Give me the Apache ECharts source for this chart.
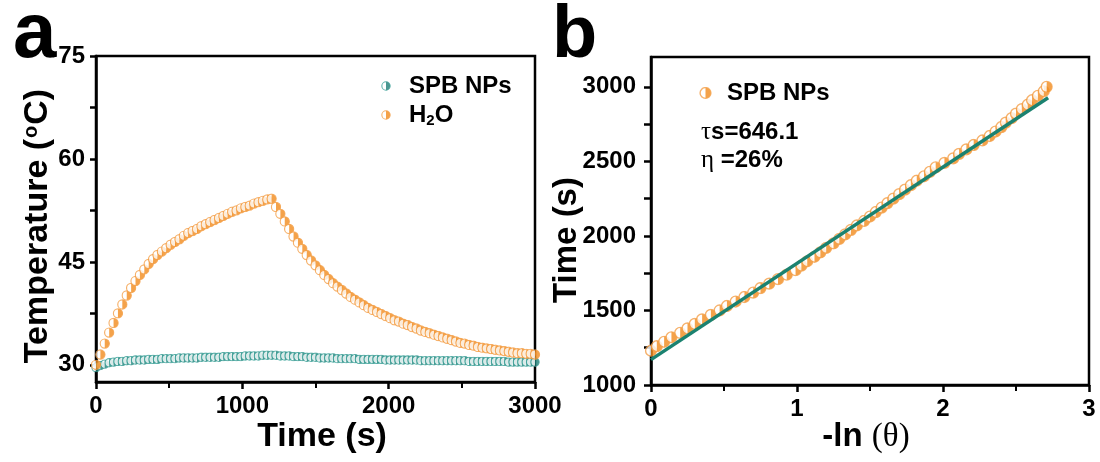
<!DOCTYPE html>
<html>
<head>
<meta charset="utf-8">
<script src="https://cdn.jsdelivr.net/npm/echarts/dist/echarts.min.js"></script>
<style>html,body{margin:0;padding:0;background:#fff;}#c{width:1100px;height:462px;}</style>
</head>
<body>
<div id="c"></div>
<script>
// ---------- Panel a data: temperature vs time ----------
const timeA = [0,30,60,90,120,150,180,210,240,270,300,330,360,390,420,450,480,510,540,570,
  600,630,660,690,720,750,780,810,840,870,900,930,960,990,1020,1050,1080,1110,1140,1170,
  1200,1230,1260,1290,1320,1350,1380,1410,1440,1470,1500,1530,1560,1590,1620,1650,1680,1710,1740,1770,
  1800,1830,1860,1890,1920,1950,1980,2010,2040,2070,2100,2130,2160,2190,2220,2250,2280,2310,2340,2370,
  2400,2430,2460,2490,2520,2550,2580,2610,2640,2670,2700,2730,2760,2790,2820,2850,2880,2910,2940,2970,3000];
const tempH2O = [30.0,31.5,33.1,34.7,36.1,37.5,38.8,40.1,41.2,42.2,
  43.1,43.9,44.7,45.4,46.0,46.5,47.0,47.5,47.9,48.3,
  48.8,49.2,49.5,49.8,50.2,50.5,50.8,51.1,51.4,51.7,
  52.0,52.3,52.5,52.8,53.0,53.2,53.5,53.7,53.9,54.1,
  54.2,53.0,52.0,50.9,49.8,48.7,47.8,46.9,46.0,45.2,
  44.5,43.8,43.1,42.5,41.9,41.4,40.9,40.4,39.9,39.5,
  39.1,38.7,38.3,38.0,37.7,37.4,37.1,36.8,36.5,36.3,
  36.0,35.8,35.5,35.3,35.0,34.8,34.6,34.4,34.2,34.0,
  33.8,33.6,33.4,33.2,33.1,32.9,32.8,32.6,32.5,32.4,
  32.3,32.2,32.1,32.0,31.9,31.8,31.7,31.7,31.6,31.6,
  31.5];
const tempSPB = [29.6,29.9,30.1,30.3,30.4,30.5,30.5,30.6,30.6,30.7,
  30.7,30.7,30.8,30.8,30.8,30.9,30.9,30.9,30.9,31.0,
  31.0,31.0,31.0,31.0,31.1,31.1,31.1,31.1,31.1,31.2,
  31.2,31.2,31.2,31.2,31.3,31.3,31.3,31.3,31.4,31.4,
  31.4,31.4,31.3,31.3,31.3,31.2,31.2,31.2,31.1,31.1,
  31.1,31.0,31.0,31.0,31.0,30.9,30.9,30.9,30.9,30.9,
  30.8,30.8,30.8,30.8,30.8,30.8,30.7,30.7,30.7,30.7,
  30.7,30.7,30.7,30.7,30.6,30.6,30.6,30.6,30.6,30.6,
  30.6,30.6,30.6,30.6,30.6,30.5,30.5,30.5,30.5,30.5,
  30.5,30.5,30.5,30.5,30.4,30.4,30.4,30.4,30.4,30.4,
  30.4];
const ticksA_y = [30,37.5,45,52.5,60,67.5,75];
const labelsA_y = [30,45,60,75];

// ---------- Panel b data: cooling time vs -ln(theta) ----------
const coolTime = [1230,1260,1290,1320,1350,1380,1410,1440,1470,
  1500,1530,1560,1590,1620,1650,1680,1710,1740,1770,
  1800,1830,1860,1890,1920,1950,1980,2010,2040,
  2070,2100,2130,2160,2190,2220,2250,2280,2310,2340,2370,2400,2430,2460,
  2490,2520,2550,2580,2610,2640,2670,
  2700,2730,2760,2790,2820,2850,2880,2910,2940,2970,3000];
const lnTheta = [0.00,0.04,0.09,0.14,0.20,0.25,0.30,0.35,0.41,
  0.47,0.52,0.58,0.64,0.70,0.75,0.81,0.87,0.93,0.99,
  1.03,1.07,1.12,1.16,1.20,1.25,1.29,1.33,1.37,
  1.41,1.46,1.50,1.54,1.58,1.62,1.66,1.70,1.74,1.78,1.82,1.87,1.91,1.95,
  2.01,2.07,2.11,2.16,2.21,2.27,2.32,
  2.36,2.40,2.43,2.47,2.50,2.54,2.58,2.61,2.65,2.69,2.71];
const fitX = [0, 2.72];
const fitT = [1170, 2927];
const ticksB_y = [1000,1250,1500,1750,2000,2250,2500,2750,3000];
const labelsB_y = [1000,1500,2000,2500,3000];

const SANS = '"Liberation Sans", Arial, sans-serif';
const SERIF = '"Liberation Serif", "DejaVu Serif", serif';
const ORANGE = '#F28C1E', ORANGE_S = '#F4A04A';
const TEAL = '#1E7F77', TEAL_S = '#3AA39A';

function halfMarker(stroke, fill){
  const svg = '<svg xmlns="http://www.w3.org/2000/svg" width="24" height="24">' +
    '<circle cx="12" cy="12" r="10" fill="#ffffff" stroke="' + stroke + '" stroke-width="2.6"/>' +
    '<path d="M12 2 A10 10 0 0 1 12 22 Z" fill="' + fill + '"/></svg>';
  return 'image://data:image/svg+xml;charset=utf-8,' + encodeURIComponent(svg);
}
const symOrange = halfMarker(ORANGE_S, ORANGE);
const symTeal = halfMarker(TEAL_S, TEAL);

const zip = (xs, ys) => xs.map((x, i) => [x, ys[i]]);
const plain = v => String(v);

const axisLineStyle = {show: true, lineStyle: {color: '#000', width: 2.5}};
const tickLabel = {color: '#000', fontSize: 24, fontWeight: 'bold', fontFamily: SANS, formatter: plain};

const chart = echarts.init(document.getElementById('c'), null, {renderer: 'canvas'});
chart.setOption({
  animation: false,
  backgroundColor: '#fff',
  grid: [
    {left: 96, right: 565, top: 56, bottom: 80, show: true, borderColor: '#000', borderWidth: 2.5, backgroundColor: 'transparent'},
    {left: 651, right: 11, top: 57, bottom: 77, show: true, borderColor: '#000', borderWidth: 2.5, backgroundColor: 'transparent'}
  ],
  xAxis: [
    {type: 'value', gridIndex: 0, min: 0, max: 3000, interval: 1000,
     axisLine: axisLineStyle, splitLine: {show: false},
     axisTick: {show: true, inside: false, length: 7, lineStyle: {color: '#000', width: 2.5}},
     minorTick: {show: true, splitNumber: 2, length: 6, lineStyle: {color: '#000', width: 2}},
     axisLabel: Object.assign({margin: 12}, tickLabel)},
    {type: 'value', gridIndex: 1, min: 0, max: 3, interval: 1,
     axisLine: axisLineStyle, splitLine: {show: false},
     axisTick: {show: true, inside: false, length: 7, lineStyle: {color: '#000', width: 2.5}},
     minorTick: {show: true, splitNumber: 2, length: 6, lineStyle: {color: '#000', width: 2}},
     axisLabel: Object.assign({margin: 12}, tickLabel)}
  ],
  yAxis: [
    {type: 'value', gridIndex: 0, min: 27.5, max: 75,
     axisLine: axisLineStyle, splitLine: {show: false},
     axisTick: {show: true, inside: false, length: 6, customValues: ticksA_y, lineStyle: {color: '#000', width: 2.5}},
     axisLabel: Object.assign({margin: 11, customValues: labelsA_y}, tickLabel)},
    {type: 'value', gridIndex: 1, min: 1000, max: 3200,
     axisLine: axisLineStyle, splitLine: {show: false},
     axisTick: {show: true, inside: false, length: 7, customValues: ticksB_y, lineStyle: {color: '#000', width: 2.5}},
     axisLabel: Object.assign({margin: 15, customValues: labelsB_y}, tickLabel)}
  ],
  legend: [
    {left: 376, top: 69, orient: 'vertical', itemGap: -9, itemWidth: 10, itemHeight: 10,
     data: [{name: 'SPB NPs', icon: symTeal}, {name: 'H2O', icon: symOrange}],
     formatter: n => n === 'H2O' ? '{b|H}{s|2}{b|O}' : '{b|' + n + '}',
     textStyle: {color: '#000', padding: [0, 0, 0, 13],
       rich: {b: {fontSize: 24, fontWeight: 'bold', fontFamily: SANS, color: '#000', lineHeight: 26},
              s: {fontSize: 15, fontWeight: 'bold', fontFamily: SANS, color: '#000', lineHeight: 15, verticalAlign: 'bottom', padding: [24, 0, 0, 0]}}}},
    {left: 694, top: 76, orient: 'vertical', itemWidth: 13, itemHeight: 13,
     data: [{name: 'SPB NPs (b)', icon: symOrange}],
     formatter: () => 'SPB NPs',
     textStyle: {color: '#000', fontSize: 24, fontWeight: 'bold', fontFamily: SANS, padding: [0, 0, 0, 10]}}
  ],
  series: [
    {name: 'SPB NPs', type: 'scatter', xAxisIndex: 0, yAxisIndex: 0, data: zip(timeA, tempSPB),
     symbol: symTeal, symbolSize: 10, itemStyle: {color: TEAL}},
    {name: 'H2O', type: 'scatter', xAxisIndex: 0, yAxisIndex: 0, data: zip(timeA, tempH2O),
     symbol: symOrange, symbolSize: 11, itemStyle: {color: ORANGE}},
    {name: 'SPB NPs (b)', type: 'scatter', xAxisIndex: 1, yAxisIndex: 1, data: zip(lnTheta, coolTime),
     symbol: symOrange, symbolSize: 13, itemStyle: {color: ORANGE}},
    {name: 'fit', type: 'line', xAxisIndex: 1, yAxisIndex: 1, data: zip(fitX, fitT),
     showSymbol: false, symbol: 'none', lineStyle: {color: '#1B8270', width: 3.5}, z: 5}
  ],
  graphic: [
    {type: 'text', left: 13, top: -4, style: {text: 'a', fontSize: 78, fontWeight: 'bold', fontFamily: SANS, fill: '#000'}},
    {type: 'text', left: 552, top: 0, style: {text: 'b', fontSize: 74, fontWeight: 'bold', fontFamily: SANS, fill: '#000'}},
    {type: 'text', x: 38, y: 226, rotation: Math.PI / 2,
     style: {text: '{t|Temperature (}{o|o}{t|C)}', align: 'center', verticalAlign: 'middle',
       rich: {t: {fontSize: 34, fontWeight: 'bold', fontFamily: SANS, fill: '#000'},
              o: {fontSize: 20, fontWeight: 'bold', fontFamily: SANS, fill: '#000', verticalAlign: 'top', lineHeight: 20, padding: [0, 1, 16, 1]}}}},
    {type: 'text', x: 567, y: 240, rotation: Math.PI / 2,
     style: {text: 'Time (s)', align: 'center', verticalAlign: 'middle', fontSize: 33, fontWeight: 'bold', fontFamily: SANS, fill: '#000'}},
    {type: 'text', x: 322, y: 437,
     style: {text: 'Time (s)', align: 'center', verticalAlign: 'middle', fontSize: 34, fontWeight: 'bold', fontFamily: SANS, fill: '#000'}},
    {type: 'text', x: 866, y: 437,
     style: {text: '{b|-ln }{g|(θ)}', align: 'center', verticalAlign: 'middle',
       rich: {b: {fontSize: 33, fontWeight: 'bold', fontFamily: SANS, fill: '#000'},
              g: {fontSize: 33, fontFamily: SERIF, fill: '#000'}}}},
    {type: 'text', x: 701, y: 132,
     style: {text: '{g|τ}{b|s=646.1}', verticalAlign: 'middle',
       rich: {g: {fontSize: 25, fontFamily: SERIF, fill: '#000'},
              b: {fontSize: 24, fontWeight: 'bold', fontFamily: SANS, fill: '#000'}}}},
    {type: 'text', x: 701, y: 160,
     style: {text: '{g|η}{b| =26%}', verticalAlign: 'middle',
       rich: {g: {fontSize: 25, fontFamily: SERIF, fill: '#000'},
              b: {fontSize: 24, fontWeight: 'bold', fontFamily: SANS, fill: '#000'}}}}
  ]
});
</script>
</body>
</html>
